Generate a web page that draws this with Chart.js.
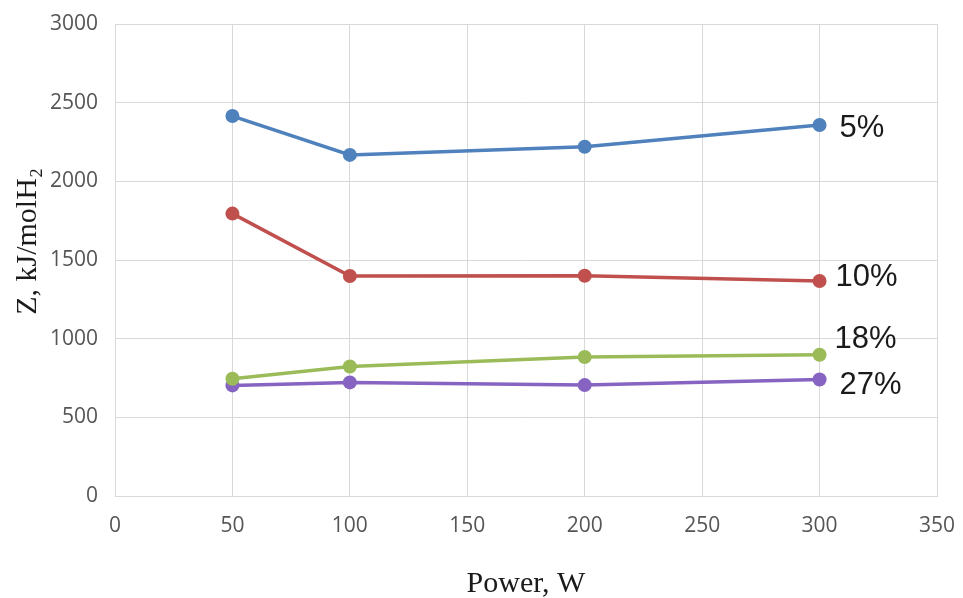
<!DOCTYPE html>
<html>
<head>
<meta charset="utf-8">
<script src="https://cdn.jsdelivr.net/npm/chart.js@4.4.1/dist/chart.umd.min.js"></script>
<style>
  html, body { margin: 0; padding: 0; background: #fff; }
  #wrap { width: 963px; height: 598px; }
</style>
</head>
<body>
<div id="wrap"><canvas id="zChart" width="963" height="598"></canvas></div>
<script>
// power (W) and Z values (kJ/molH2)
const powerW   = [50, 100, 200, 300];
const z5pct    = [2415, 2168, 2220, 2358];
const z10pct   = [1795, 1398, 1400, 1367];
const z18pct   = [745, 823, 883, 898];
const z27pct   = [703, 722, 705, 740];
const seriesNames = ["5%", "10%", "18%", "27%"];

const xTicks = [0, 50, 100, 150, 200, 250, 300, 350];
const yTicks = [0, 500, 1000, 1500, 2000, 2500, 3000];

// label offsets next to the last point of each line
const labelShift = [
  { dx: 20, dy: 3 },
  { dx: 16, dy: -3 },
  { dx: 15, dy: -15 },
  { dx: 20, dy: 6 },
];

const colors = ["#4f81bd", "#c0504d", "#9bbb59", "#8764c2"];

function toPoints(ys) {
  return powerW.map((x, i) => ({ x: x, y: ys[i] }));
}

// end labels "5%", "10%" ...
const endLabels = {
  id: "endLabels",
  afterDatasetsDraw(chart) {
    const ctx = chart.ctx;
    ctx.save();
    ctx.font = "31px 'Liberation Sans', Arial, sans-serif";
    ctx.fillStyle = "#1a1a1a";
    ctx.textBaseline = "middle";
    ctx.textAlign = "left";
    chart.data.datasets.forEach((ds, i) => {
      const meta = chart.getDatasetMeta(i);
      const last = meta.data[meta.data.length - 1];
      ctx.fillText(seriesNames[i], last.x + labelShift[i].dx, last.y + labelShift[i].dy);
    });
    ctx.restore();
  }
};

const allSeries = [z5pct, z10pct, z18pct, z27pct];
const tickFont = { family: "'Open Sans', sans-serif", size: 21 };
const titleFont = { family: "'Liberation Serif', 'Times New Roman', serif", size: 30 };

new Chart(document.getElementById("zChart"), {
  type: "line",
  data: {
    datasets: allSeries.map((ys, i) => ({
      label: seriesNames[i],
      data: toPoints(ys),
      borderColor: colors[i],
      backgroundColor: colors[i],
      borderWidth: 3.5,
      pointRadius: 7,
      pointHoverRadius: 7,
      pointBorderWidth: 0,
      tension: 0,
    }))
  },
  options: {
    responsive: false,
    animation: false,
    layout: { padding: { top: 24, right: 26, left: 10, bottom: 0 } },
    plugins: { legend: { display: false }, tooltip: { enabled: false } },
    scales: {
      x: {
        type: "linear",
        min: 0, max: 350,
        afterBuildTicks: (s) => { s.ticks = xTicks.map(v => ({ value: v })); },
        afterFit: (s) => { s.height = 102; s.paddingLeft = 0; s.paddingRight = 0; },
        grid: { color: "#d9d9d9", lineWidth: 1, drawTicks: false },
        border: { color: "#d9d9d9" },
        ticks: { padding: 17, color: "#555555", font: tickFont, callback: (v) => String(v) },
        title: {
          display: true,
          text: "Power, W",
          color: "#1a1a1a",
          font: titleFont,
          padding: { top: 0, bottom: -4 }
        }
      },
      y: {
        min: 0, max: 3000,
        afterBuildTicks: (s) => { s.ticks = yTicks.map(v => ({ value: v })); },
        afterFit: (s) => { s.width = 105; s.paddingTop = 0; s.paddingBottom = 0; },
        grid: { color: "#d9d9d9", lineWidth: 1, drawTicks: false },
        border: { color: "#d9d9d9" },
        ticks: { padding: 17, color: "#555555", font: tickFont, callback: (v) => String(v) },
        title: {
          display: true,
          text: "     Z, kJ/molH\u2082",
          color: "#1a1a1a",
          font: titleFont,
          padding: 0
        }
      }
    }
  },
  plugins: [endLabels]
});
</script>
</body>
</html>
